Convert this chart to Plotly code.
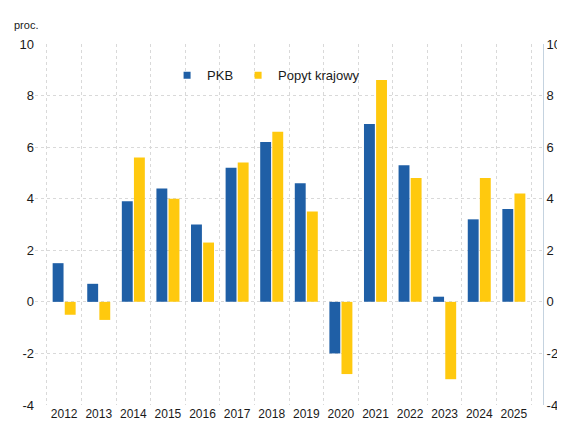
import plotly.graph_objects as go

years = ["2012", "2013", "2014", "2015", "2016", "2017", "2018",
         "2019", "2020", "2021", "2022", "2023", "2024", "2025"]
pkb = [1.5, 0.7, 3.9, 4.4, 3.0, 5.2, 6.2, 4.6, -2.0, 6.9, 5.3, 0.2, 3.2, 3.6]
popyt = [-0.5, -0.7, 5.6, 4.0, 2.3, 5.4, 6.6, 3.5, -2.8, 8.6, 4.8, -3.0, 4.8, 4.2]
y_ticks = [-4, -2, 0, 2, 4, 6, 8, 10]
y_ticktext = ["-4", "-2", "0", "2", "4", "6", "8", "10"]

BLUE = "#1F5FA6"
YELLOW = "#FFC90E"
FONT = "Liberation Sans, Arial, sans-serif"

fig = go.Figure()
fig.add_trace(go.Bar(x=years, y=pkb, name="PKB", marker=dict(color=BLUE, line_width=0),
                     showlegend=False))
fig.add_trace(go.Bar(x=years, y=popyt, name="Popyt krajowy", marker=dict(color=YELLOW, line_width=0),
                     showlegend=False))
# legend entries with small square swatches
fig.add_trace(go.Scatter(x=[None], y=[None], mode="markers", name="PKB",
                         marker=dict(symbol="square", size=7, color=BLUE)))
fig.add_trace(go.Scatter(x=[None], y=[None], mode="markers", name="Popyt krajowy",
                         marker=dict(symbol="square", size=7, color=YELLOW)))
fig.add_trace(go.Scatter(x=years, y=pkb, yaxis="y2", mode="markers",
                         marker=dict(opacity=0), showlegend=False, hoverinfo="skip"))

grid = dict(showgrid=True, gridcolor="#d9d9d9", griddash="dot", gridwidth=1)

fig.update_layout(
    width=565, height=428,
    margin=dict(l=27, r=30, t=36, b=31),
    paper_bgcolor="white", plot_bgcolor="white",
    barmode="group", bargap=0.30, bargroupgap=0.1,
    font=dict(family=FONT, size=12, color="#1a1a1a"),
    showlegend=True,
    legend=dict(orientation="h", x=0.26, y=0.955, xanchor="left", yanchor="top",
                font=dict(size=13, color="#1a1a1a"), bgcolor="rgba(0,0,0,0)",
                itemwidth=30, traceorder="normal"),
    xaxis=dict(type="category", tickson="boundaries", ticks="", showline=False,
               tickangle=0, automargin=False,
               tickfont=dict(size=12, color="#1a1a1a"), **grid),
    yaxis=dict(range=[-4, 10], tickvals=y_ticks, ticktext=y_ticktext, zeroline=False,
               showline=False, automargin=False,
               ticks="", tickfont=dict(size=13, color="#1a1a1a"), **grid),
    yaxis2=dict(range=[-4, 10], tickvals=y_ticks, ticktext=y_ticktext, overlaying="y",
                side="right", automargin=False,
                showgrid=False, zeroline=False, showline=True, linecolor="#c5d3e0",
                ticks="", tickfont=dict(size=13, color="#1a1a1a")),
    annotations=[dict(text="proc.", xref="paper", yref="paper", x=-0.045, y=1.03,
                      xanchor="left", yanchor="bottom", showarrow=False,
                      font=dict(size=11, color="#1a1a1a"))],
)

fig.write_html("out.html")
